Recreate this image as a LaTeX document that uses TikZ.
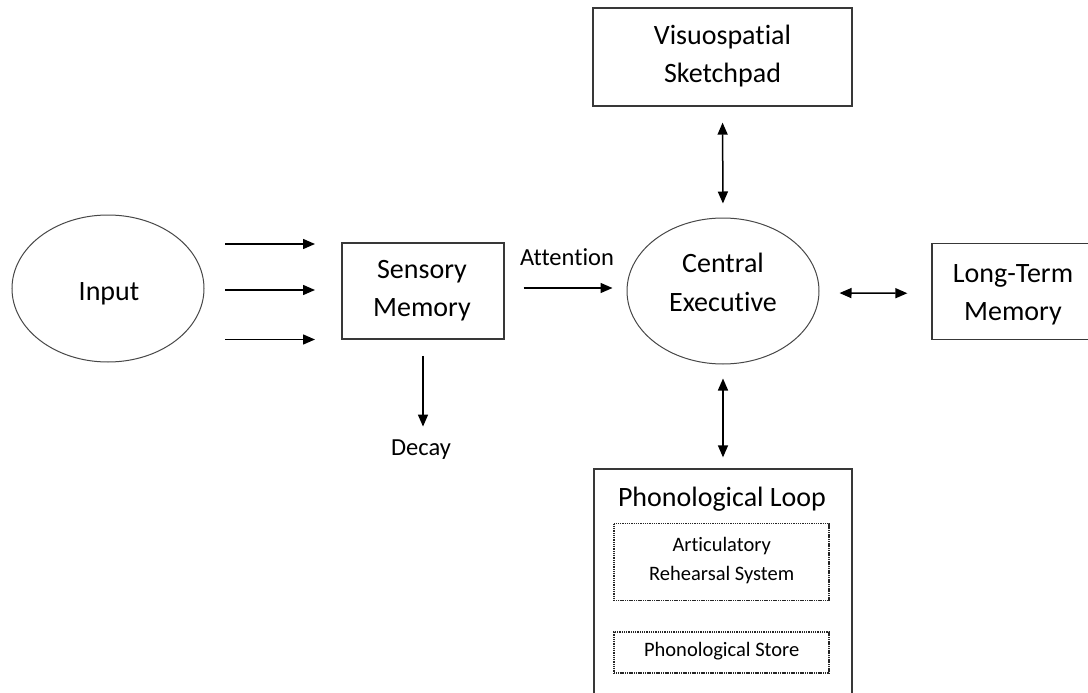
\documentclass[tikz,border=0pt]{standalone}
\usepackage{fontspec}
\setmainfont{Carlito}[Ligatures={NoCommon,NoRare,NoContextual}]
\usetikzlibrary{arrows.meta,shapes.geometric}
\begin{document}
\begin{tikzpicture}[x=1pt,y=-1pt,
  box/.style={draw=black!78, line width=1.3pt, rectangle, inner sep=0pt},
  oval/.style={draw=black!72, line width=1pt, ellipse, inner sep=0pt},
  dotbox/.style={draw=black!85, line width=1.7pt, dash pattern=on 1.1pt off 0.7pt, rectangle, inner sep=0pt},
  big/.style={font=\fontsize{28}{34}\selectfont, anchor=base, inner sep=0pt},
  mid/.style={font=\fontsize{24.5}{30}\selectfont, anchor=base, inner sep=0pt},
  small/.style={font=\fontsize{20.5}{25}\selectfont, anchor=base, inner sep=0pt},
  arr/.style={line width=1.5pt, -{Triangle[length=12pt,width=10pt]}},
  darr/.style={line width=1.5pt, {Triangle[length=12pt,width=10pt]}-{Triangle[length=12pt,width=10pt]}},
]
\clip (0,0) rectangle (1088,693);
\useasboundingbox (0,0) rectangle (1088,693);
\fill[white] (0,0) rectangle (1088,693);

% Visuospatial Sketchpad
\node[box, minimum width=259pt, minimum height=98pt] (vs) at (722.5,57) {};
\node[big] (vs1) at (722.5,45) {Visuospatial};
\node[big] (vs2) at (722.5,83) {Sketchpad};

% Input
\node[oval, minimum width=192pt, minimum height=147pt] (in) at (108,288.5) {};
\node[big] (inT) at (109,300) {Input};

% Sensory Memory
\node[box, minimum width=162pt, minimum height=96pt] (sm) at (423,291) {};
\node[big] (sm1) at (422,278) {Sensory};
\node[big] (sm2) at (422,316) {Memory};

% Central Executive
\node[oval, minimum width=192pt, minimum height=146pt] (ce) at (723,291) {};
\node[big] (ce1) at (723,272) {Central};
\node[big] (ce2) at (723,311) {Executive};

% Long-Term Memory
\node[box, minimum width=162pt, minimum height=96pt] (ltm) at (1013,291.3) {};
\node[big] (ltm1) at (1013,282) {Long-Term};
\node[big] (ltm2) at (1013,320) {Memory};

% Phonological Loop
\node[box, minimum width=258pt, minimum height=251pt] (pl) at (723,594.5) {};
\node[big] (plT) at (722,506) {Phonological Loop};
\node[dotbox, minimum width=215pt, minimum height=77pt] (ars) at (721.7,562) {};
\node[small] (ars1) at (721.7,551.7) {Articulatory};
\node[small] (ars2) at (721.7,580) {Rehearsal System};
\node[dotbox, minimum width=215pt, minimum height=41.6pt] (ps) at (721.7,652.5) {};
\node[small] (psT) at (721.7,656.7) {Phonological Store};

% labels
\node[mid] (att) at (567,265) {Attention};
\node[mid] (decay) at (421,455) {Decay};

% input arrows
\coordinate (a1s) at (225,244); \coordinate (a1e) at (315,244);
\coordinate (a2s) at (225,290); \coordinate (a2e) at (315,290);
\coordinate (a3s) at (225,339.5); \coordinate (a3e) at (315,339.5);
\draw[arr] (a1s) -- (a1e);
\draw[arr] (a2s) -- (a2e);
\draw[arr] (a3s) -- (a3e);

% connectors
\draw[arr, shorten <=19pt, shorten >=14pt] ([yshift=3pt]sm.east) -- ([yshift=3pt]ce.west);
\draw[arr, shorten <=16.3pt, shorten >=12.5pt] (sm.south) -- (sm.south |- decay.north);
\draw[darr, shorten <=16pt, shorten >=14pt] (vs.south) -- (ce.north);
\draw[darr, shorten <=14pt, shorten >=11pt] (ce.south) -- (pl.north);
\draw[darr, shorten <=20pt, shorten >=24pt] ([yshift=-2pt]ce.east) -- ([yshift=-2pt]ltm.west);
\end{tikzpicture}
\end{document}
